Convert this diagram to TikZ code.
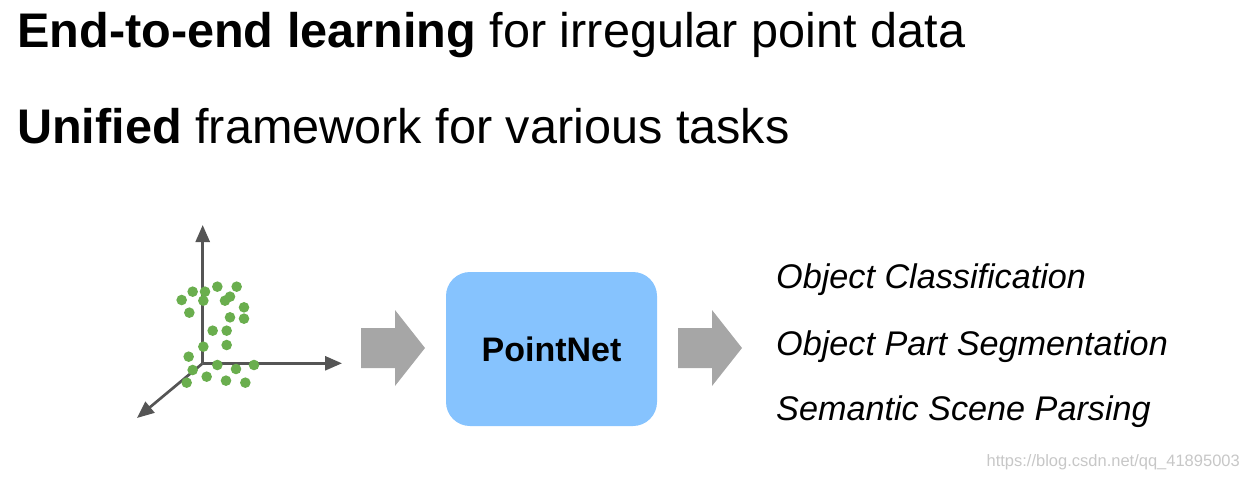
\documentclass[tikz,border=0pt]{standalone}
\usepackage{fontspec}
\setmainfont{Liberation Sans}
\usetikzlibrary{arrows.meta}
\definecolor{ptgreen}{HTML}{6AAE4E}
\definecolor{axgray}{HTML}{555555}
\definecolor{boxblue}{HTML}{86C3FE}
\definecolor{arrgray}{HTML}{A6A6A6}
\tikzset{
  title/.style={anchor=base west,inner sep=0pt,font=\fontsize{48.6}{56}\selectfont},
  task/.style={anchor=base west,inner sep=0pt,font=\fontsize{34.2}{40}\selectfont\itshape},
  axis/.style={draw=axgray,line width=2.7pt,-{Triangle[length=17pt,width=14pt]}},
  pt/.style={fill=ptgreen},
  blockarrow/.style={fill=arrgray}
}
\begin{document}
\begin{tikzpicture}[x=1pt,y=-1pt]
\useasboundingbox (0,0) rectangle (1249,479);
\node[title] (t1) at (17,47) {\textbf{End-to-end learning} for irregular point data};
\node[title] (t2) at (17,143) {\textbf{Unified} framework for various tasks};
% axes
\coordinate (o) at (202.7,363.3);
\coordinate (ay) at (202.7,225);
\coordinate (ax) at (342,363.3);
\coordinate (az) at (137,418);
\draw[axis] (o) -- (ay);
\draw[axis] (o) -- (ax);
\draw[axis] (o) -- (az);
% points
\foreach \zx/\zy in {155/240,188/215,225/215,262/200,320/200,220/242,285/242,300/230,178/278,342/262,300/292,342/296,248/332,290/332,220/380,290/375,176/410,188/450,262/435,318/447,372/435,230/470,288/482,346/488,170/488}
  \fill[pt] ({130+\zx/3},{220+\zy/3}) circle (5.3);
% block arrows
\fill[blockarrow] (361,328) -- (395,328) -- (395,310) -- (425,348) -- (395,386) -- (395,368) -- (361,368) -- cycle;
\fill[blockarrow] (678,328) -- (712,328) -- (712,310) -- (742,348) -- (712,386) -- (712,368) -- (678,368) -- cycle;
% box
\node[fill=boxblue,rounded corners=24pt,minimum width=211pt,minimum height=154pt,inner sep=0pt,font=\fontsize{34}{40}\selectfont\bfseries] (pn) at (551.5,349) {PointNet};
% tasks
\node[task] (c1) at (776,288) {Object Classification};
\node[task] (c2) at (776,355) {Object Part Segmentation};
\node[task] (c3) at (776,420) {Semantic Scene Parsing};
\node[anchor=base east,inner sep=0pt,text=black!22,font=\fontsize{16.5}{19}\selectfont] (wm) at (1240,466) {https://blog.csdn.net/qq\_41895003};
\end{tikzpicture}
\end{document}
